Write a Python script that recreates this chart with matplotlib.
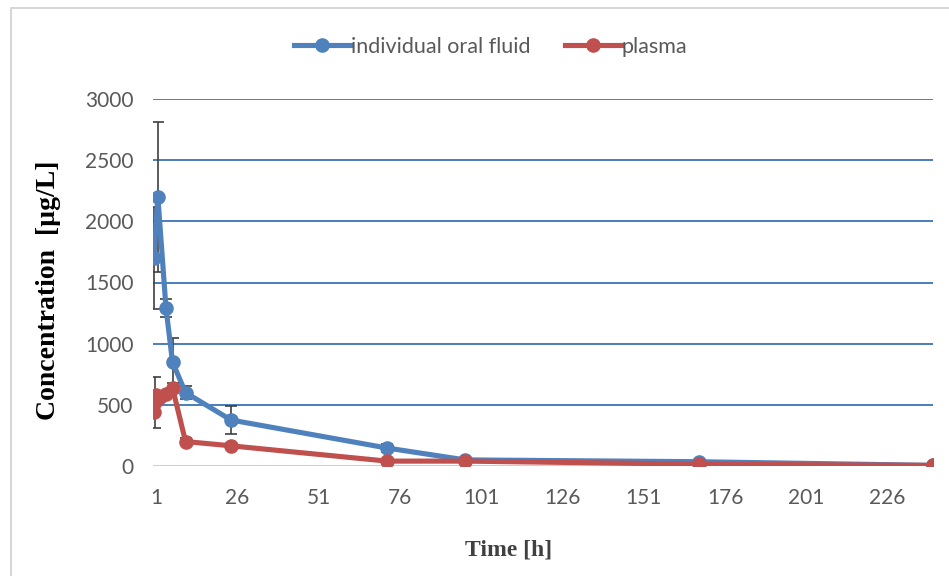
"""
Concentration-time profile: individual oral fluid vs plasma (Excel-style chart).
"""

import matplotlib
matplotlib.use("Agg")
import matplotlib.pyplot as plt
from matplotlib.lines import Line2D
from matplotlib.patches import Rectangle

# data
time_oral = [0.25, 1.5, 4, 6, 10, 24, 72, 96, 168, 240]
conc_oral = [1700, 2200, 1290, 850, 600, 376, 147, 50, 35, 5]
err_oral = [420, 615, 75, 200, 50, 115, 30, 10, 10, 0]

time_plasma = [0.25, 0.5, 1, 2, 4, 6, 10, 24, 72, 96, 168, 240]
conc_plasma = [440, 520, 580, 560, 590, 640, 200, 165, 40, 40, 15, 5]
err_plasma = [0, 210, 0, 0, 0, 40, 30, 20, 10, 10, 5, 0]

x_ticks = [1, 26, 51, 76, 101, 126, 151, 176, 201, 226]
y_ticks = [0, 500, 1000, 1500, 2000, 2500, 3000]

AZUL = "#4F81BD"
VERMELHO = "#C0504D"
CINZA_TXT = "#595959"

fig = plt.figure(figsize=(9.49, 5.76), dpi=100)
ax = fig.add_axes([153 / 949, 1 - 466 / 576, (933 - 153) / 949, (466 - 99) / 576])

# moldura externa do gráfico
fig.patches.append(Rectangle((11 / 949, -0.01), 1.0, 1 - 8 / 576 + 0.01,
                             transform=fig.transFigure, fill=False,
                             edgecolor="#d0d0d0", linewidth=1.2))

for y in y_ticks[1:]:
    ax.axhline(y, color="#4a7ebb", linewidth=1.4, zorder=1)
ax.axhline(0, color="#c8c8c8", linewidth=2, zorder=1)

estilo = dict(linewidth=3.7, marker="o", markersize=9.5, ecolor="#404040",
              elinewidth=1.2, capsize=4.5, capthick=1.2)
ax.errorbar(time_oral, conc_oral, yerr=err_oral, color=AZUL, zorder=3, **estilo)
ax.errorbar(time_plasma, conc_plasma, yerr=err_plasma, color=VERMELHO,
            zorder=4, **estilo)

ax.set_xlim(0, 240)
ax.set_ylim(0, 3000)
ax.set_xticks(x_ticks)
ax.set_yticks(y_ticks)
ax.tick_params(length=0, labelsize=15, labelcolor=CINZA_TXT)
ax.tick_params(axis="x", pad=16)
ax.tick_params(axis="y", pad=14)
for lbl in ax.get_xticklabels() + ax.get_yticklabels():
    lbl.set_family("Lato")
for s in ax.spines.values():
    s.set_visible(False)

ax.set_xlabel("Time [h]", family="Liberation Serif", fontweight="bold",
              fontsize=17, color="#404040")
ax.set_ylabel("Concentration  [µg/L]", family="Liberation Serif",
              fontweight="bold", fontsize=20, color="black")
ax.xaxis.set_label_coords(0.456, -0.20)
ax.yaxis.set_label_coords(-0.118, 0.48)

handles = [
    Line2D([], [], color=AZUL, linewidth=3.7, marker="o", markersize=9.5),
    Line2D([], [], color=VERMELHO, linewidth=3.7, marker="o", markersize=9.5),
]
leg = ax.legend(handles, ["individual oral fluid", "plasma"],
                loc="center", bbox_to_anchor=(0.433, 1.142), ncol=2,
                frameon=False, prop={"family": "Lato", "size": 15.5},
                handlelength=2.6, handletextpad=0.05, columnspacing=1.6)
for t in leg.get_texts():
    t.set_color(CINZA_TXT)

fig.savefig("out.png", dpi=100)
